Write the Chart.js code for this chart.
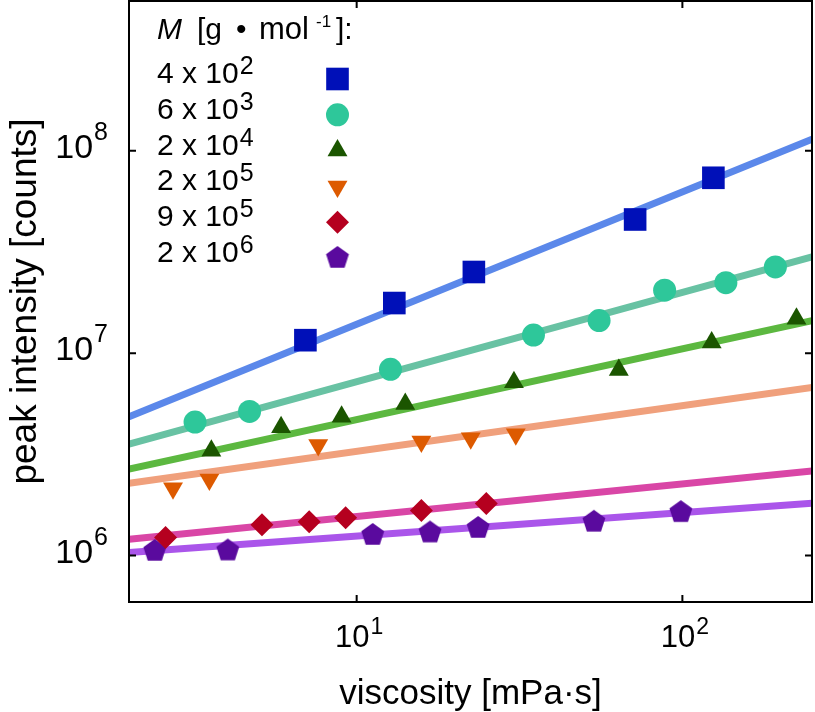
<!DOCTYPE html>
<html>
<head>
<meta charset="utf-8">
<script src="https://cdn.jsdelivr.net/npm/chart.js@4/dist/chart.umd.min.js"></script>
<style>
  html, body { margin: 0; padding: 0; background: #fff; }
  #wrap { width: 815px; height: 712px; }
</style>
</head>
<body>
<div id="wrap"><canvas id="chart" width="815" height="712"></canvas></div>
<script>
// peak intensity vs viscosity, log-log, one series per molar mass
// values

const X_MIN = 2, X_MAX = 250;
const Y_MIN = 5.9e5, Y_MAX = 5.5e8;
const xTicks = [10, 100];
const yTicks = [1e6, 1e7, 1e8];

const xTitle = 'viscosity [mPa\u00b7s]';
const yTitle = 'peak intensity [counts]';

// legend: M = mant x 10^exp
const massMant = ['4', '6', '2', '2', '9', '2'];
const massExp  = ['2', '3', '4', '5', '5', '6'];

// measured points
const visc1 = [6.96, 13.05, 22.9, 71.6, 124.5];
const peak1 = [1.16e7, 1.77e7, 2.52e7, 4.58e7, 7.36e7];

const visc2 = [3.19, 4.69, 12.7, 34.9, 55.5, 88.2, 136, 193];
const peak2 = [4.57e6, 5.16e6, 8.33e6, 1.23e7, 1.45e7, 2.05e7, 2.23e7, 2.67e7];

const visc3 = [3.58, 5.86, 8.99, 14.1, 30.4, 63.8, 123, 224];
const peak3 = [3.30e6, 4.31e6, 4.86e6, 5.61e6, 7.18e6, 8.26e6, 1.13e7, 1.48e7];

const visc4 = [2.73, 3.53, 7.62, 15.8, 22.4, 30.8];
const peak4 = [2.15e6, 2.38e6, 3.52e6, 3.66e6, 3.80e6, 3.98e6];

const visc5 = [2.59, 5.12, 7.15, 9.25, 15.8, 25.0];
const peak5 = [1.23e6, 1.42e6, 1.47e6, 1.54e6, 1.67e6, 1.81e6];

const visc6 = [2.40, 4.02, 11.2, 16.8, 23.6, 53.5, 98.9];
const peak6 = [1.055e6, 1.06e6, 1.265e6, 1.30e6, 1.37e6, 1.47e6, 1.64e6];

// power-law fits, evaluated at the axis ends
const fitX = [2, 250];
const fit1 = [4.85e6, 1.14e8];
const fit2 = [3.56e6, 2.99e7];
const fit3 = [2.68e6, 1.45e7];
const fit4 = [2.28e6, 6.78e6];
const fit5 = [1.205e6, 2.62e6];
const fit6 = [1.035e6, 1.815e6];

const FONT = '"Liberation Sans", Arial, Helvetica, sans-serif';
const font = (size, style) => (style ? style + ' ' : '') + size + 'px ' + FONT;

function pentagon(r, color) {
  const s = Math.ceil(r * 2) + 2;
  const c = document.createElement('canvas');
  c.width = s; c.height = s;
  const g = c.getContext('2d');
  g.fillStyle = color;
  g.beginPath();
  for (let i = 0; i < 5; i++) {
    const a = -Math.PI / 2 + i * 2 * Math.PI / 5;
    const px = s / 2 + r * Math.cos(a), py = s / 2 + r * Math.sin(a);
    if (i) g.lineTo(px, py); else g.moveTo(px, py);
  }
  g.closePath();
  g.fill();
  return c;
}

const series = [
  { x: visc1, y: peak1, fit: fit1, line: '#5b88ea', mark: '#0010b8', style: 'rect',     rot: 0,   r: 16 },
  { x: visc2, y: peak2, fit: fit2, line: '#68c2a3', mark: '#2ec79a', style: 'circle',   rot: 0,   r: 11.5 },
  { x: visc3, y: peak3, fit: fit3, line: '#5cb840', mark: '#1b5500', style: 'triangle', rot: 0,   r: 11.5 },
  { x: visc4, y: peak4, fit: fit4, line: '#f0a07c', mark: '#dd5a00', style: 'triangle', rot: 180, r: 11.5 },
  { x: visc5, y: peak5, fit: fit5, line: '#d946a6', mark: '#b5001f', style: 'rectRot',  rot: 0,   r: 11.5 },
  { x: visc6, y: peak6, fit: fit6, line: '#aa55ea', mark: '#5a0a9e', style: null,       rot: 0,   r: 12 },
];
series[5].style = pentagon(12, series[5].mark);

const datasets = [];
series.forEach(s => {
  datasets.push({
    data: s.x.map((v, i) => ({ x: v, y: s.y[i] })),
    showLine: false,
    pointStyle: s.style,
    rotation: s.rot,
    pointRadius: s.r,
    pointBackgroundColor: s.mark,
    pointBorderWidth: 0,
    order: 1,
  });
});
series.forEach(s => {
  datasets.push({
    data: fitX.map((v, i) => ({ x: v, y: s.fit[i] })),
    showLine: true,
    borderColor: s.line,
    borderWidth: 7,
    borderCapStyle: 'round',
    pointRadius: 0,
    order: 2,
  });
});

// frame, inward ticks, tick labels with exponents, axis titles, legend
const decorPlugin = {
  id: 'decor',
  afterDraw(chart) {
    const { ctx, chartArea: a, scales: { x, y } } = chart;
    ctx.save();
    ctx.strokeStyle = '#000';
    ctx.fillStyle = '#000';
    ctx.lineWidth = 2;
    ctx.strokeRect(a.left, a.top, a.right - a.left, a.bottom - a.top);

    const TL = 7;
    ctx.beginPath();
    xTicks.forEach(v => {
      const px = x.getPixelForValue(v);
      ctx.moveTo(px, a.bottom); ctx.lineTo(px, a.bottom - TL);
      ctx.moveTo(px, a.top);    ctx.lineTo(px, a.top + TL);
    });
    yTicks.forEach(v => {
      const py = y.getPixelForValue(v);
      ctx.moveTo(a.left, py);  ctx.lineTo(a.left + TL, py);
      ctx.moveTo(a.right, py); ctx.lineTo(a.right - TL, py);
    });
    ctx.stroke();

    ctx.textBaseline = 'alphabetic';
    // x tick labels
    xTicks.forEach(v => {
      const px = x.getPixelForValue(v);
      const e = String(Math.round(Math.log10(v)));
      ctx.font = font(31);
      const wb = ctx.measureText('10').width;
      ctx.font = font(23);
      const we = ctx.measureText(e).width;
      const left = px - (wb + we) / 2 + 2;
      ctx.textAlign = 'left';
      ctx.font = font(31);
      ctx.fillText('10', left, 647);
      ctx.font = font(23);
      ctx.fillText(e, left + wb + 1, 634);
    });
    // y tick labels
    yTicks.forEach(v => {
      const py = y.getPixelForValue(v);
      const e = String(Math.round(Math.log10(v)));
      ctx.textAlign = 'right';
      ctx.font = font(25);
      const we = ctx.measureText(e).width;
      const right = a.left - 21;
      ctx.fillText(e, right, py - 11);
      ctx.font = font(34);
      ctx.fillText('10', right - we - 1, py + 7);
    });

    // axis titles
    ctx.font = font(35);
    ctx.textAlign = 'center';
    ctx.fillText(xTitle, (a.left + a.right) / 2, 704);
    ctx.font = font(37);
    ctx.save();
    ctx.translate(36, (a.top + a.bottom) / 2);
    ctx.rotate(-Math.PI / 2);
    ctx.fillText(yTitle, 0, 0);
    ctx.restore();

    // legend block
    ctx.textAlign = 'left';
    const lx = 157, tb = 39;
    ctx.font = font(30, 'italic');
    ctx.fillText('M', lx, tb);
    ctx.font = font(30);
    ctx.fillText('[g', lx + 40, tb);
    ctx.fillText('\u2022', lx + 79, tb);
    ctx.font = font(31);
    ctx.fillText('mol', lx + 102, tb);
    ctx.font = font(17);
    ctx.fillText('-1', lx + 159, tb - 12);
    ctx.font = font(30);
    ctx.fillText(']:', lx + 179, tb);

    const mx = 337.5;
    series.forEach((s, i) => {
      const base = 83 + i * 35.8;
      ctx.font = font(30);
      const txt = massMant[i] + ' x 10';
      ctx.fillText(txt, lx, base);
      const w = ctx.measureText(txt).width;
      ctx.font = font(25);
      ctx.fillText(massExp[i], lx + w + 1, base - 9);

      ctx.fillStyle = s.mark;
      const opts = { pointStyle: s.style, radius: s.r, rotation: s.rot, borderWidth: 0 };
      Chart.helpers.drawPoint(ctx, opts, mx, base - 4);
      ctx.fillStyle = '#000';
    });
    ctx.restore();
  },
};

new Chart(document.getElementById('chart'), {
  type: 'scatter',
  data: { datasets },
  options: {
    responsive: false,
    animation: false,
    events: [],
    layout: { autoPadding: false, padding: { left: 129, right: 3, top: 1, bottom: 110 } },
    plugins: { legend: { display: false }, tooltip: { enabled: false } },
    scales: {
      x: { type: 'logarithmic', min: X_MIN, max: X_MAX, bounds: 'data', display: false },
      y: { type: 'logarithmic', min: Y_MIN, max: Y_MAX, bounds: 'data', display: false },
    },
  },
  plugins: [decorPlugin],
});
</script>
</body>
</html>
